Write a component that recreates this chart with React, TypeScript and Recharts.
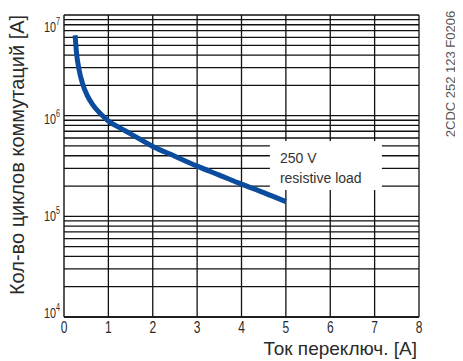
import React from "react";
import {
  LineChart,
  Line,
  XAxis,
  YAxis,
  ReferenceLine,
  ReferenceDot,
} from "recharts";

// (current in A, switching cycles)
const currentA = [0.25, 0.28, 0.34, 0.42, 0.52, 0.65, 0.81, 1, 1.26, 1.5, 2, 2.5, 3, 3.5, 4, 4.5, 5];
const cycles = [
  6.3e6, 4.3e6, 2.85e6, 2.07e6, 1.6e6, 1.28e6, 1.06e6, 8.85e5, 7.55e5, 6.6e5, 4.95e5, 3.95e5, 3.15e5, 2.57e5,
  2.09e5, 1.72e5, 1.4e5,
];

const xTicks = [0, 1, 2, 3, 4, 5, 6, 7, 8];
const yTicks = [1e4, 1e5, 1e6, 1e7];
const minorMultipliers = [1, 2, 3, 4, 5, 6, 7, 8, 9];
const decades = [1e4, 1e5, 1e6];

const hGrid = [...decades.flatMap((d) => minorMultipliers.map((m) => m * d)), 1e7];
const vGrid = [1, 2, 3, 4, 5, 6, 7, 8];

const data = currentA.map((x, i) => ({ x, y: cycles[i] }));

const TEXT = "'Liberation Sans', Arial, sans-serif";
const BLUE = "#0b4c9e";
const INK = "#2a2a2a";

const YTick = (props: any) => {
  const { x, y, payload } = props;
  const exp = Math.round(Math.log10(payload.value));
  const dy = exp === 7 ? 15 : exp === 6 ? 8 : exp === 5 ? 5 : 1;
  return (
    <g transform={`translate(${x},${y + dy}) scale(0.72,1)`}>
      <text x={0} y={0} textAnchor="end" fontFamily={TEXT} fontSize={15} fill={INK}>
        10
        <tspan dy={-7} fontSize={10}>
          {exp}
        </tspan>
      </text>
    </g>
  );
};

const XTick = (props: any) => {
  const { x, y, payload } = props;
  return (
    <g transform={`translate(${x},${y + 14}) scale(0.75,1)`}>
      <text x={0} y={0} textAnchor="middle" fontFamily={TEXT} fontSize={16} fill={INK}>
        {payload.value}
      </text>
    </g>
  );
};

const LoadLabel = (props: any) => {
  const { cx, cy } = props;
  return (
    <g>
      <rect x={cx} y={cy} width={112} height={49} fill="#fff" />
      <text x={cx + 10} y={cy + 22} fontFamily={TEXT} fontSize={14} fill="#333">
        250 V
      </text>
      <text x={cx + 10} y={cy + 42} fontFamily={TEXT} fontSize={14} fill="#333">
        resistive load
      </text>
    </g>
  );
};

export default function App() {
  return (
    <div style={{ position: "relative", width: 455, height: 353 }}>
      <LineChart
        width={455}
        height={353}
        data={data}
        margin={{ top: 7, right: 44, bottom: 14, left: 8 }}
      >
        <XAxis
          dataKey="x"
          type="number"
          domain={[0, 8]}
          ticks={xTicks}
          tick={<XTick />}
          tickLine={false}
          tickSize={0}
          axisLine={{ stroke: "#111", strokeWidth: 1.4 }}
          height={30}
          allowDataOverflow
        />
        <YAxis
          dataKey="y"
          scale="log"
          domain={[1e4, 1e7]}
          ticks={yTicks}
          tick={<YTick />}
          tickLine={false}
          tickSize={0}
          tickMargin={4}
          axisLine={{ stroke: "#111", strokeWidth: 1.4 }}
          width={48}
          allowDataOverflow
        />
        {hGrid.map((v) => (
          <ReferenceLine key={"h" + v} y={v} stroke="#111" strokeWidth={1.3} />
        ))}
        {vGrid.map((v) => (
          <ReferenceLine key={"v" + v} x={v} stroke="#111" strokeWidth={1.3} />
        ))}
        <Line
          dataKey="y"
          type="monotone"
          stroke={BLUE}
          strokeWidth={5}
          dot={false}
          isAnimationActive={false}
        />
        <ReferenceDot x={4.64} y={5.6e5} r={0} shape={<LoadLabel />} />
      </LineChart>
      <div
        style={{
          position: "absolute",
          left: 9,
          top: 147,
          transform: "translate(-50%, -50%) rotate(-90deg)",
          whiteSpace: "nowrap",
          fontFamily: TEXT,
          fontSize: 20,
          color: INK,
        }}
      >
        Кол-во циклов коммутаций [A]
      </div>
      <div
        style={{
          position: "absolute",
          right: 46,
          top: 330,
          whiteSpace: "nowrap",
          fontFamily: TEXT,
          fontSize: 19,
          color: INK,
        }}
      >
        Ток переключ. [A]
      </div>
      <div
        style={{
          position: "absolute",
          left: 442,
          top: 66,
          transform: "translate(-50%, -50%) rotate(-90deg)",
          whiteSpace: "nowrap",
          fontFamily: TEXT,
          fontSize: 13,
          color: "#555",
        }}
      >
        2CDC 252 123 F0206
      </div>
    </div>
  );
}
